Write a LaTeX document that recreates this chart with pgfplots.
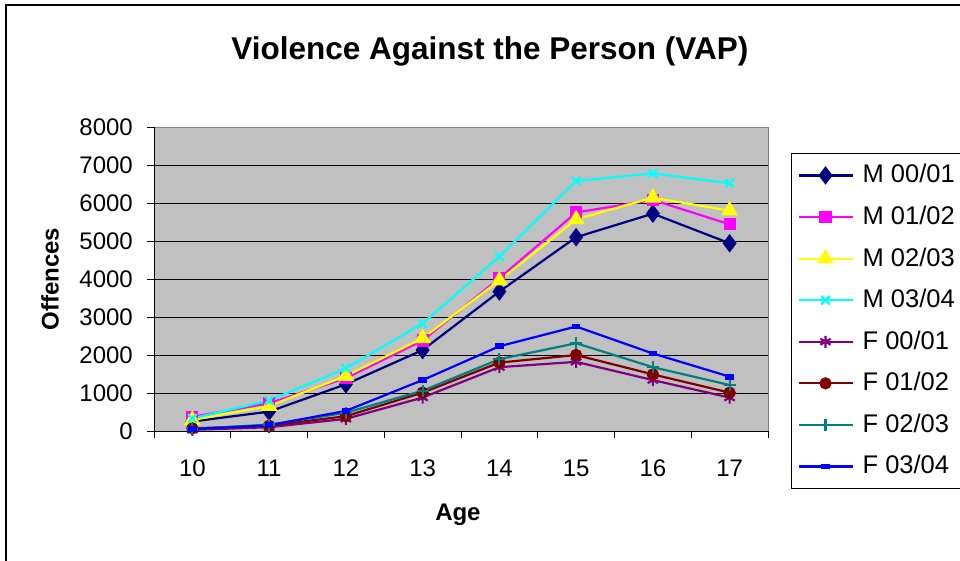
\documentclass[border=0pt]{standalone}
\usepackage{fontspec}
\setmainfont{Liberation Sans}
\usepackage{pgfplots}
\pgfplotsset{compat=1.18}
\usetikzlibrary{plotmarks}

\definecolor{plotgray}{HTML}{C0C0C0}
\definecolor{bordergray}{HTML}{808080}
\definecolor{cNavy}{HTML}{000080}
\definecolor{cMagenta}{HTML}{FF00FF}
\definecolor{cYellow}{HTML}{FFFF00}
\definecolor{cCyan}{HTML}{00FFFF}
\definecolor{cPurple}{HTML}{800080}
\definecolor{cMaroon}{HTML}{800000}
\definecolor{cTeal}{HTML}{008080}
\definecolor{cBlue}{HTML}{0000FF}

\begin{document}
\begin{tikzpicture}
\fontsize{24pt}{28pt}\selectfont
\path[use as bounding box] (0,0) rectangle (960pt,-560pt);
\draw[line width=1.5pt] (6pt,-580pt) -- (6pt,-5pt) -- (980pt,-5pt);
\begin{axis}[
  at={(154pt,-431pt)}, anchor=south west,
  scale only axis, width=614pt, height=304pt,
  xmin=9.5, xmax=17.5, ymin=0, ymax=8000,
  axis lines=left, axis line style={-, black, line width=0.8pt},
  axis background/.style={fill=plotgray, draw=bordergray, line width=0.8pt},
  xtick={9.5,10.5,...,17.5},
  xticklabels={10,11,12,13,14,15,16,17},
  x tick label as interval,
  ytick={0,1000,...,7000},
  extra y ticks={8000}, extra y tick style={grid=none},
  ymajorgrids, grid style={black, line width=0.8pt},
  tick align=outside, major tick length=7pt,
  tick style={black, line width=0.8pt},
  scaled y ticks=false,
  /pgf/number format/assume math mode=true,
  y tick label style={/pgf/number format/1000 sep={}, xshift=-6pt},
  x tick label style={yshift=-14pt},
  title={\fontsize{31.5pt}{35pt}\selectfont\bfseries Violence Against the Person (VAP)},
  title style={at={(axis description cs:0.547,1)}, anchor=center, yshift=70pt},
  xlabel={\bfseries Age},
  xlabel style={at={(axis description cs:0.495,0)}, anchor=center, yshift=-84pt},
  ylabel={\bfseries Offences},
  ylabel style={at={(axis description cs:0,0.5)}, anchor=center, yshift=104pt},
  legend style={at={(1.0375,0.9145)}, anchor=north west, draw=black,
    line width=0.8pt, fill=white, row sep=17.5pt, column sep=8pt,
    inner xsep=6pt, inner ysep=10pt,
    nodes={inner sep=1pt}, font=\fontsize{25.5pt}{28pt}\selectfont},
  legend cell align=left,
  legend image code/.code={
    \draw[#1, mark repeat=2, mark phase=2] plot coordinates {(0pt,0pt) (27pt,0pt) (54pt,0pt)};},
  every axis plot/.append style={line width=2.2pt},
]
\addplot[cNavy, mark=diamond*, mark size=7.5pt, mark options={solid, fill=cNavy}] coordinates {
 (10,250) (11,510) (12,1230) (13,2130) (14,3670) (15,5100) (16,5720) (17,4940)};
\addlegendentry{M 00/01}
\addplot[cMagenta, mark=square*, mark size=5pt, mark options={fill=cMagenta}] coordinates {
 (10,370) (11,730) (12,1390) (13,2380) (14,4020) (15,5750) (16,6080) (17,5440)};
\addlegendentry{M 01/02}
\addplot[cYellow, mark=triangle*, mark size=7.5pt, mark options={fill=cYellow}] coordinates {
 (10,290) (11,660) (12,1450) (13,2440) (14,3960) (15,5570) (16,6140) (17,5800)};
\addlegendentry{M 02/03}
\addplot[cCyan, mark=x, mark size=6pt] coordinates {
 (10,330) (11,800) (12,1650) (13,2830) (14,4590) (15,6580) (16,6780) (17,6520)};
\addlegendentry{M 03/04}
\addplot[cPurple, mark=asterisk, mark size=6pt] coordinates {
 (10,30) (11,100) (12,320) (13,880) (14,1680) (15,1820) (16,1340) (17,880)};
\addlegendentry{F 00/01}
\addplot[cMaroon, mark=*, mark size=5pt, mark options={fill=cMaroon}] coordinates {
 (10,70) (11,140) (12,390) (13,1010) (14,1800) (15,2000) (16,1490) (17,1010)};
\addlegendentry{F 01/02}
\addplot[cTeal, mark=+, mark size=6pt] coordinates {
 (10,50) (11,170) (12,480) (13,1060) (14,1890) (15,2310) (16,1680) (17,1210)};
\addlegendentry{F 02/03}
\addplot[cBlue, mark=square*, mark size=2.5pt, mark options={fill=cBlue, yscale=0.7, xscale=1.3}] coordinates {
 (10,50) (11,150) (12,530) (13,1340) (14,2230) (15,2750) (16,2040) (17,1430)};
\addlegendentry{F 03/04}
\end{axis}
\end{tikzpicture}
\end{document}
